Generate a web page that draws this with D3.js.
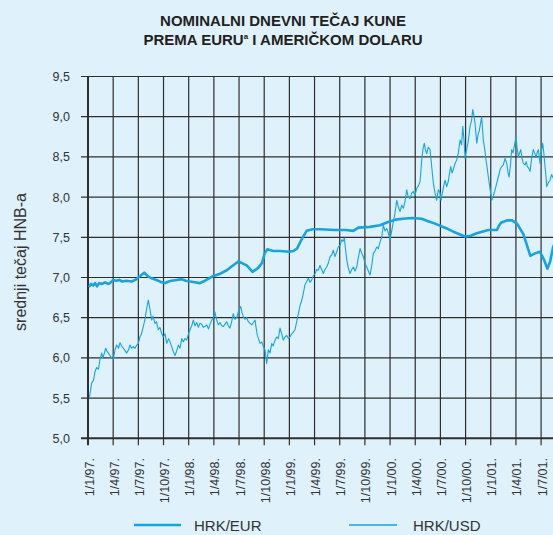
<!DOCTYPE html>
<html><head><meta charset="utf-8">
<script src="https://cdn.jsdelivr.net/npm/d3@7"></script>
<style>
html,body{margin:0;padding:0;background:#dff1fb;}
svg{display:block;font-family:"Liberation Sans",Arial,Helvetica,sans-serif;}
</style>
</head><body>
<svg id="chart" width="553" height="535"></svg>
<script>
// ---------- DATA ----------
const titleLine1 = "NOMINALNI DNEVNI TEČAJ KUNE";
const titleLine2a = "PREMA EURU";
const titleSup = "a";
const titleLine2b = " I AMERIČKOM DOLARU";
const yAxisTitle = "srednji tečaj HNB-a";
const yTicks = [5.0, 5.5, 6.0, 6.5, 7.0, 7.5, 8.0, 8.5, 9.0, 9.5];
const yTickLabels = ["5,0","5,5","6,0","6,5","7,0","7,5","8,0","8,5","9,0","9,5"];
// time as decimal years
const xTicks = [1997,1997.25,1997.5,1997.75,1998,1998.25,1998.5,1998.75,1999,1999.25,1999.5,1999.75,2000,2000.25,2000.5,2000.75,2001,2001.25,2001.5];
const xTickLabels = ["1/1/97.","1/4/97.","1/7/97.","1/10/97.","1/1/98.","1/4/98.","1/7/98.","1/10/98.","1/1/99.","1/4/99.","1/7/99.","1/10/99.","1/1/00.","1/4/00.","1/7/00.","1/10/00.","1/1/01.","1/4/01.","1/7/01."];
const seriesNames = ["HRK/EUR", "HRK/USD"];

const eurSeries = [
[1997.010,6.88],[1997.030,6.92],[1997.050,6.90],[1997.070,6.93],[1997.090,6.89],[1997.110,6.93],
[1997.140,6.92],[1997.170,6.94],[1997.200,6.92],[1997.219,6.93],[1997.250,6.97],[1997.280,6.96],
[1997.310,6.97],[1997.340,6.95],[1997.380,6.96],[1997.434,6.95],[1997.470,6.97],[1997.500,7.00],
[1997.530,7.03],[1997.559,7.06],[1997.600,7.01],[1997.633,6.99],[1997.680,6.97],[1997.732,6.94],
[1997.766,6.93],[1997.800,6.95],[1997.831,6.96],[1997.880,6.97],[1997.931,6.98],[1997.970,6.96],
[1998.013,6.95],[1998.060,6.94],[1998.112,6.93],[1998.162,6.96],[1998.245,7.02],[1998.300,7.04],
[1998.378,7.09],[1998.440,7.15],[1998.493,7.20],[1998.576,7.15],[1998.634,7.07],[1998.690,7.12],
[1998.728,7.18],[1998.755,7.30],[1998.781,7.35],[1998.840,7.33],[1998.907,7.33],[1998.996,7.32],
[1999.040,7.33],[1999.076,7.36],[1999.120,7.47],[1999.172,7.58],[1999.230,7.60],[1999.304,7.60],
[1999.450,7.59],[1999.560,7.59],[1999.635,7.58],[1999.685,7.62],[1999.800,7.63],[1999.900,7.65],
[1999.980,7.69],[2000.054,7.72],[2000.130,7.73],[2000.215,7.74],[2000.314,7.73],[2000.377,7.70],
[2000.447,7.67],[2000.563,7.61],[2000.628,7.57],[2000.745,7.51],[2000.800,7.52],[2000.861,7.55],
[2000.976,7.59],[2001.062,7.59],[2001.080,7.64],[2001.102,7.68],[2001.162,7.71],[2001.211,7.71],
[2001.261,7.67],[2001.324,7.54],[2001.393,7.27],[2001.440,7.30],[2001.489,7.32],[2001.529,7.22],
[2001.562,7.11],[2001.590,7.20],[2001.619,7.38],[2001.648,7.45]
];

const usdSeries = [
[1997.013,5.50],[1997.037,5.69],[1997.055,5.72],[1997.070,5.83],[1997.086,5.88],[1997.104,5.86],
[1997.119,5.98],[1997.136,6.06],[1997.149,6.00],[1997.176,6.12],[1997.189,6.08],[1997.202,6.06],
[1997.223,6.02],[1997.251,5.98],[1997.268,6.10],[1997.285,6.16],[1997.303,6.12],[1997.318,6.19],
[1997.333,6.15],[1997.351,6.12],[1997.368,6.09],[1997.384,6.06],[1997.402,6.10],[1997.417,6.16],
[1997.432,6.12],[1997.450,6.14],[1997.467,6.12],[1997.484,6.16],[1997.500,6.18],[1997.516,6.26],
[1997.531,6.30],[1997.549,6.39],[1997.566,6.48],[1997.583,6.62],[1997.599,6.72],[1997.616,6.60],
[1997.633,6.47],[1997.646,6.52],[1997.665,6.43],[1997.680,6.45],[1997.698,6.35],[1997.715,6.38],
[1997.732,6.30],[1997.748,6.26],[1997.765,6.30],[1997.782,6.18],[1997.800,6.24],[1997.814,6.20],
[1997.831,6.14],[1997.847,6.08],[1997.864,6.03],[1997.879,6.08],[1997.897,6.16],[1997.914,6.12],
[1997.931,6.24],[1997.947,6.20],[1997.963,6.24],[1997.980,6.22],[1997.998,6.30],[1998.013,6.35],
[1998.030,6.40],[1998.046,6.47],[1998.063,6.40],[1998.080,6.44],[1998.096,6.38],[1998.112,6.43],
[1998.127,6.42],[1998.145,6.38],[1998.162,6.39],[1998.179,6.41],[1998.197,6.36],[1998.212,6.42],
[1998.229,6.47],[1998.245,6.50],[1998.261,6.57],[1998.276,6.48],[1998.294,6.41],[1998.311,6.44],
[1998.328,6.40],[1998.344,6.39],[1998.361,6.42],[1998.378,6.45],[1998.394,6.40],[1998.410,6.37],
[1998.427,6.45],[1998.443,6.55],[1998.460,6.48],[1998.477,6.50],[1998.495,6.58],[1998.517,6.64],
[1998.530,6.56],[1998.543,6.51],[1998.559,6.48],[1998.576,6.50],[1998.592,6.45],[1998.609,6.43],
[1998.626,6.41],[1998.642,6.44],[1998.659,6.47],[1998.669,6.38],[1998.682,6.28],[1998.693,6.24],
[1998.708,6.18],[1998.725,6.20],[1998.741,6.14],[1998.758,6.10],[1998.775,5.93],[1998.791,6.10],
[1998.808,6.06],[1998.825,6.18],[1998.840,6.15],[1998.857,6.22],[1998.874,6.26],[1998.890,6.24],
[1998.907,6.37],[1998.924,6.30],[1998.940,6.22],[1998.957,6.26],[1998.974,6.28],[1998.989,6.24],
[1999.006,6.26],[1999.023,6.30],[1999.039,6.32],[1999.056,6.35],[1999.073,6.45],[1999.089,6.55],
[1999.106,6.65],[1999.123,6.72],[1999.138,6.80],[1999.155,6.91],[1999.172,6.95],[1999.188,6.99],
[1999.205,6.94],[1999.222,6.97],[1999.238,7.02],[1999.255,7.05],[1999.272,7.10],[1999.287,7.09],
[1999.304,7.15],[1999.321,7.10],[1999.337,7.05],[1999.354,7.10],[1999.371,7.13],[1999.387,7.18],
[1999.404,7.26],[1999.421,7.28],[1999.436,7.34],[1999.453,7.26],[1999.470,7.32],[1999.486,7.38],
[1999.503,7.40],[1999.520,7.47],[1999.533,7.45],[1999.546,7.49],[1999.558,7.35],[1999.570,7.22],
[1999.585,7.12],[1999.602,7.05],[1999.619,7.10],[1999.635,7.13],[1999.652,7.08],[1999.669,7.13],
[1999.685,7.25],[1999.702,7.36],[1999.719,7.30],[1999.734,7.26],[1999.751,7.18],[1999.768,7.13],
[1999.784,7.08],[1999.801,7.03],[1999.818,7.15],[1999.834,7.30],[1999.851,7.33],[1999.868,7.38],
[1999.883,7.36],[1999.900,7.44],[1999.917,7.50],[1999.933,7.65],[1999.950,7.58],[1999.967,7.61],
[1999.983,7.55],[2000.000,7.47],[2000.016,7.58],[2000.032,7.69],[2000.049,7.80],[2000.066,7.96],
[2000.082,7.88],[2000.099,7.82],[2000.116,7.90],[2000.132,7.86],[2000.149,7.95],[2000.165,8.09],
[2000.181,8.00],[2000.198,7.98],[2000.215,8.05],[2000.231,8.07],[2000.248,8.02],[2000.265,8.11],
[2000.281,8.14],[2000.298,8.19],[2000.314,8.46],[2000.327,8.60],[2000.340,8.67],[2000.352,8.58],
[2000.364,8.54],[2000.380,8.62],[2000.397,8.59],[2000.412,8.40],[2000.430,8.17],[2000.447,8.05],
[2000.463,7.96],[2000.479,8.09],[2000.496,8.05],[2000.506,7.96],[2000.526,8.10],[2000.546,8.21],
[2000.563,8.13],[2000.579,8.20],[2000.596,8.34],[2000.603,8.38],[2000.615,8.30],[2000.628,8.34],
[2000.645,8.42],[2000.662,8.46],[2000.678,8.55],[2000.695,8.71],[2000.710,8.65],[2000.722,8.88],
[2000.735,8.70],[2000.745,8.48],[2000.754,8.55],[2000.767,8.63],[2000.779,8.72],[2000.794,8.88],
[2000.809,8.95],[2000.821,9.09],[2000.834,9.00],[2000.844,8.92],[2000.861,8.67],[2000.874,8.78],
[2000.887,8.83],[2000.899,8.92],[2000.910,9.00],[2000.926,8.71],[2000.940,8.60],[2000.953,8.46],
[2000.966,8.35],[2000.976,8.25],[2000.993,8.10],[2001.010,7.96],[2001.026,8.02],[2001.043,8.09],
[2001.059,8.17],[2001.075,8.25],[2001.092,8.34],[2001.109,8.38],[2001.125,8.40],[2001.142,8.48],
[2001.159,8.42],[2001.172,8.30],[2001.182,8.25],[2001.196,8.40],[2001.208,8.59],[2001.221,8.55],
[2001.236,8.65],[2001.251,8.75],[2001.261,8.62],[2001.274,8.50],[2001.286,8.55],[2001.298,8.59],
[2001.311,8.48],[2001.324,8.42],[2001.340,8.40],[2001.353,8.44],[2001.363,8.38],[2001.377,8.36],
[2001.390,8.32],[2001.407,8.49],[2001.423,8.59],[2001.435,8.55],[2001.450,8.50],[2001.462,8.56],
[2001.473,8.59],[2001.482,8.50],[2001.489,8.42],[2001.501,8.55],[2001.516,8.67],[2001.527,8.55],
[2001.539,8.38],[2001.549,8.25],[2001.556,8.13],[2001.572,8.18],[2001.589,8.21],[2001.604,8.28],
[2001.619,8.24],[2001.648,8.30]
];

// ---------- DRAW ----------
const W = 553, H = 535;
const lineColor = "#12a5e2";
const gridColor = "#2e2e2e";
const svg = d3.select("#chart");
svg.append("rect").attr("width", W).attr("height", H).attr("fill", "#dff1fb");

const x = d3.scaleLinear().domain([1997, 2001.5]).range([88, 541.1]);
const y = d3.scaleLinear().domain([5, 9.5]).range([438.3, 76.5]);

// title
const title = svg.append("text").attr("text-anchor", "middle")
  .attr("font-weight", "bold").attr("font-size", 15).attr("fill", "#231f20");
title.append("tspan").attr("x", 283).attr("y", 26).text(titleLine1);
const t2 = svg.append("text").attr("text-anchor", "middle").attr("x", 283).attr("y", 45)
  .attr("font-weight", "bold").attr("font-size", 15).attr("fill", "#231f20");
t2.append("tspan").text(titleLine2a);
t2.append("tspan").attr("font-size", 8).attr("dy", -6).text(titleSup);
t2.append("tspan").attr("dy", 6).text(titleLine2b);

// horizontal grid + y ticks
svg.append("g").selectAll("line").data(yTicks).join("line")
  .attr("x1", 81).attr("x2", W)
  .attr("y1", d => y(d)).attr("y2", d => y(d))
  .attr("stroke", gridColor).attr("stroke-width", d => d === 5 ? 2 : 1.2);

// vertical grid + x ticks
svg.append("g").selectAll("line").data(xTicks).join("line")
  .attr("x1", d => x(d)).attr("x2", d => x(d))
  .attr("y1", y(9.5)).attr("y2", y(5) + 7)
  .attr("stroke", gridColor).attr("stroke-width", (d, i) => i === 0 ? 2 : 1.2);

// y labels
svg.append("g").selectAll("text").data(yTicks).join("text")
  .attr("x", 70).attr("y", d => y(d)).attr("dy", "0.36em")
  .attr("text-anchor", "end").attr("font-size", 12.5).attr("fill", "#333")
  .text((d, i) => yTickLabels[i]);

// x labels
svg.append("g").selectAll("text").data(xTicks).join("text")
  .attr("transform", d => `translate(${x(d) + 1},458) rotate(-90)`)
  .attr("dy", "0.36em")
  .attr("text-anchor", "end").attr("font-size", 12.5).attr("fill", "#333")
  .text((d, i) => xTickLabels[i]);

// y axis title
svg.append("text").attr("transform", "translate(26,262) rotate(-90)")
  .attr("text-anchor", "middle").attr("font-size", 16).attr("fill", "#333")
  .text(yAxisTitle);

// lines
const line = d3.line().x(d => x(d[0])).y(d => y(d[1]));
svg.append("path").datum(usdSeries).attr("d", line)
  .attr("fill", "none").attr("stroke", lineColor).attr("stroke-width", 1.1)
  .attr("stroke-linejoin", "round");
svg.append("path").datum(eurSeries).attr("d", line)
  .attr("fill", "none").attr("stroke", lineColor).attr("stroke-width", 2.6)
  .attr("stroke-linejoin", "round");

// legend
const legend = [
  {name: seriesNames[0], x1: 134, x2: 181, tx: 194, w: 2.6},
  {name: seriesNames[1], x1: 349, x2: 397, tx: 413, w: 1.3}
];
const lg = svg.append("g").selectAll("g").data(legend).join("g");
lg.append("line").attr("x1", d => d.x1).attr("x2", d => d.x2)
  .attr("y1", 525).attr("y2", 525).attr("stroke", lineColor).attr("stroke-width", d => d.w);
lg.append("text").attr("x", d => d.tx).attr("y", 531)
  .attr("font-size", 15).attr("fill", "#333").text(d => d.name);
</script>
</body></html>
